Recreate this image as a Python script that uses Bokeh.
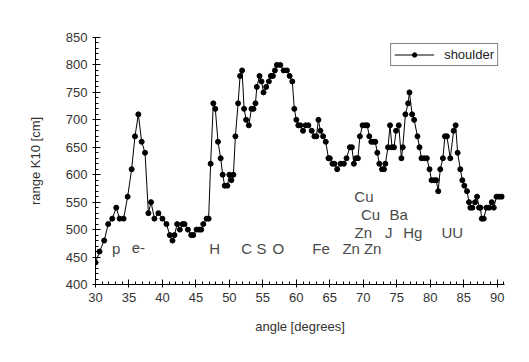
from bokeh.plotting import figure
from bokeh.models import ColumnDataSource, SingleIntervalTicker, Range1d, Legend, LegendItem
from bokeh.embed import file_html
from bokeh.resources import INLINE
from bokeh.core.properties import value

angle = [30.0, 30.6, 31.3, 31.9, 32.5, 33.1, 33.6, 34.2, 34.8, 35.4, 35.9, 36.4, 36.9, 37.4, 37.9,
         38.3, 38.8, 39.4, 40.0, 40.6, 41.1, 41.5, 41.8, 42.2, 42.6, 43.0, 43.3, 43.8, 44.3, 44.6,
         45.1, 45.5, 45.8, 46.1, 46.6, 46.9, 47.2, 47.6, 47.9, 48.3, 48.7, 49.0, 49.3, 49.7, 50.0,
         50.3, 50.6, 50.9, 51.3, 51.6, 51.9, 52.2, 52.5, 52.9, 53.3, 53.6, 53.9, 54.1, 54.5, 54.8,
         55.1, 55.5, 55.9, 56.2, 56.5, 56.8, 57.1, 57.6, 58.1, 58.6, 59.0, 59.4, 59.7, 60.0, 60.3,
         60.6, 61.0, 61.4, 61.8, 62.3, 62.7, 63.0, 63.3, 63.6, 64.0, 64.4, 64.8, 65.0, 65.4, 65.7,
         66.1, 66.6, 67.1, 67.5, 68.0, 68.3, 68.6, 68.9, 69.2, 69.5, 69.9, 70.3, 70.6, 70.9, 71.2,
         71.5, 71.8, 72.1, 72.4, 72.8, 73.1, 73.3, 73.7, 74.0, 74.3, 74.6, 74.9, 75.3, 75.7, 75.9,
         76.3, 76.7, 76.9, 77.3, 77.6, 78.1, 78.4, 78.7, 79.1, 79.5, 79.9, 80.2, 80.6, 80.9, 81.2,
         81.5, 81.9, 82.2, 82.5, 83.0, 83.5, 83.8, 84.1, 84.5, 84.8, 85.1, 85.5, 85.8, 86.0, 86.3,
         86.7, 87.0, 87.3, 87.5, 87.7, 88.0, 88.4, 88.8, 89.2, 89.5, 89.9, 90.3, 90.7]
shoulder = [440, 460, 480, 510, 520, 540, 520, 520, 560, 610, 670, 710, 660, 640, 530,
            550, 520, 530, 520, 510, 490, 480, 490, 510, 500, 510, 510, 500, 490, 490,
            500, 500, 500, 510, 520, 520, 620, 730, 720, 660, 630, 600, 580, 580, 600,
            590, 600, 670, 730, 780, 790, 720, 700, 690, 720, 720, 730, 760, 780, 770,
            750, 760, 770, 780, 780, 790, 800, 800, 790, 790, 780, 770, 720, 700, 690,
            690, 680, 690, 690, 680, 670, 670, 700, 680, 670, 660, 630, 630, 620, 620,
            610, 620, 620, 630, 650, 650, 620, 630, 630, 670, 690, 690, 690, 670, 660,
            660, 660, 640, 620, 610, 610, 620, 650, 690, 650, 650, 680, 690, 630, 650,
            710, 730, 750, 710, 700, 670, 650, 630, 630, 630, 610, 590, 590, 590, 570,
            610, 630, 670, 670, 630, 680, 690, 640, 610, 590, 580, 570, 550, 540, 540,
            550, 560, 540, 540, 520, 520, 540, 540, 550, 540, 560, 560, 560]

label_text = ["p", "e-", "H", "C", "S", "O", "Fe", "Zn", "Zn", "Zn", "J", "Hg", "UU", "Cu", "Cu", "Ba"]
label_x = [33.1, 36.4, 47.8, 52.6, 54.8, 57.3, 63.7, 68.2, 71.4, 70.0, 73.8, 77.4, 83.3, 70.1, 71.1, 75.3]
label_y = [466, 466, 466, 466, 466, 466, 466, 466, 466, 494, 494, 494, 494, 560, 527, 527]

p = figure(width=521, height=354, output_backend="svg", toolbar_location=None,
           x_range=Range1d(30, 91.1), y_range=Range1d(400, 850),
           min_border_left=95, min_border_right=17, min_border_top=37, min_border_bottom=70)
p.outline_line_color = None
p.xgrid.visible = False
p.ygrid.visible = False
p.background_fill_color = "white"

src = ColumnDataSource(dict(x=angle, y=shoulder))
ln = p.line("x", "y", source=src, line_color="black", line_width=1)
sc = p.scatter("x", "y", source=src, size=5, fill_color="black", line_color="black")

lab = ColumnDataSource(dict(x=label_x, y=label_y, t=label_text))
p.text("x", "y", text="t", source=lab, text_align="center", text_baseline="middle",
       text_font=value("Liberation Sans"), text_font_size="15px", text_color="#4a4a4a")

p.xaxis.ticker = SingleIntervalTicker(interval=5, num_minor_ticks=5)
p.yaxis.ticker = SingleIntervalTicker(interval=50, num_minor_ticks=5)
for ax in (p.xaxis[0], p.yaxis[0]):
    ax.axis_line_color = "black"
    ax.major_tick_line_color = "black"
    ax.minor_tick_line_color = "black"
    ax.major_tick_in = 5
    ax.major_tick_out = 3
    ax.minor_tick_in = 3
    ax.minor_tick_out = 0
    ax.major_label_text_font = "Liberation Sans"
    ax.major_label_text_font_size = "13px"
    ax.major_label_text_color = "#333333"
    ax.axis_label_text_font = "Liberation Sans"
    ax.axis_label_text_font_size = "13px"
    ax.axis_label_text_font_style = "normal"
    ax.axis_label_text_color = "#333333"

p.xaxis.axis_label = "angle [degrees]"
p.yaxis.axis_label = "range K10 [cm]"
p.xaxis.major_label_standoff = 5
p.xaxis.axis_label_standoff = 14
p.yaxis.major_label_standoff = 5
p.yaxis.axis_label_standoff = 20

legend = Legend(items=[LegendItem(label="shoulder", renderers=[ln, sc])],
                location="top_right")
legend.border_line_color = "black"
legend.border_line_width = 1
legend.background_fill_alpha = 1
legend.label_text_font = "Liberation Sans"
legend.label_text_font_size = "13px"
legend.label_text_color = "#222222"
legend.glyph_width = 40
legend.glyph_height = 11
legend.label_height = 11
legend.padding = 3
legend.spacing = 0
legend.margin = 6
legend.label_standoff = 10
p.add_layout(legend)

open("out.html", "w").write(file_html(p, INLINE))
